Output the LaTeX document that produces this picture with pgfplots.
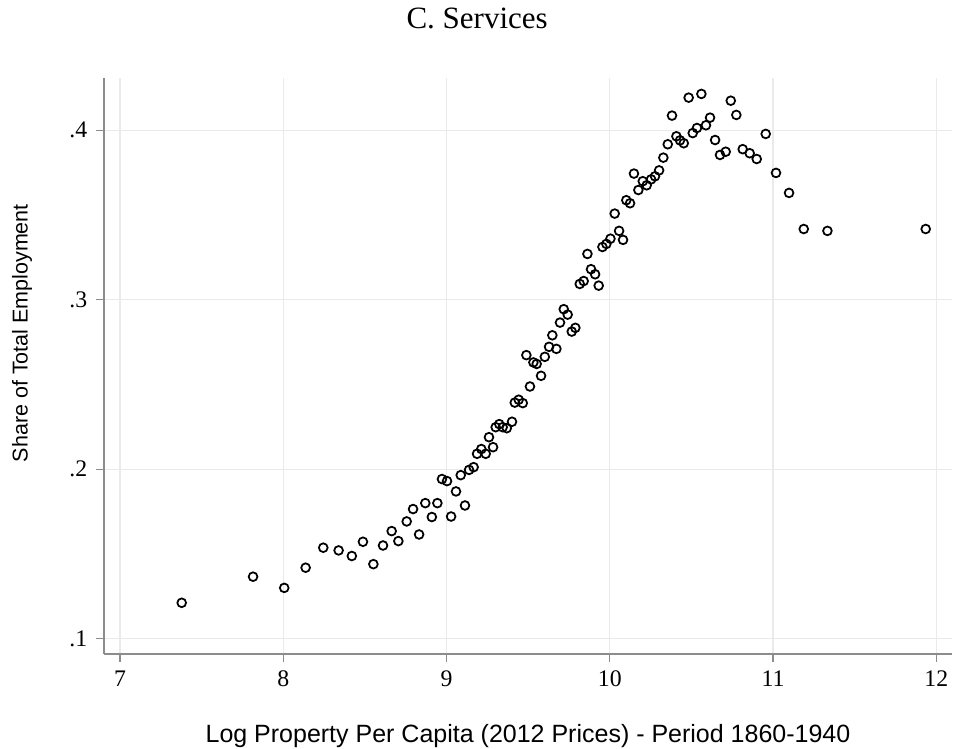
\documentclass[border=0pt]{standalone}
\usepackage{fontspec}
\setmainfont{Liberation Serif}
\newfontfamily\arialfont{Liberation Sans}
\usepackage{pgfplots}
\pgfplotsset{compat=1.18}
\definecolor{gridc}{HTML}{EAEAEA}
\definecolor{spine}{HTML}{8C8C8C}
\pgfplotstableread{
x y
7.378 0.1212
7.815 0.1366
8.006 0.1300
8.137 0.1419
8.245 0.1537
8.339 0.1521
8.420 0.1488
8.488 0.1572
8.552 0.1440
8.611 0.1550
8.664 0.1635
8.705 0.1576
8.756 0.1692
8.795 0.1765
8.832 0.1615
8.870 0.1800
8.910 0.1718
8.944 0.1800
8.972 0.1942
9.003 0.1930
9.028 0.1721
9.058 0.1869
9.087 0.1965
9.113 0.1786
9.138 0.1996
9.166 0.2012
9.187 0.2091
9.213 0.2119
9.240 0.2091
9.260 0.2189
9.285 0.2130
9.301 0.2248
9.323 0.2266
9.344 0.2248
9.369 0.2242
9.401 0.2280
9.418 0.2393
9.442 0.2410
9.467 0.2390
9.489 0.2673
9.511 0.2488
9.532 0.2630
9.552 0.2621
9.579 0.2551
9.602 0.2663
9.628 0.2722
9.648 0.2790
9.673 0.2710
9.695 0.2865
9.718 0.2944
9.742 0.2912
9.767 0.2812
9.789 0.2834
9.816 0.3093
9.840 0.3110
9.863 0.3270
9.885 0.3180
9.910 0.3150
9.932 0.3083
9.955 0.3311
9.979 0.3329
10.004 0.3360
10.030 0.3508
10.057 0.3406
10.081 0.3353
10.101 0.3587
10.124 0.3569
10.148 0.3744
10.175 0.3647
10.202 0.3699
10.226 0.3675
10.253 0.3710
10.277 0.3728
10.302 0.3763
10.328 0.3838
10.355 0.3917
10.381 0.4086
10.408 0.3964
10.430 0.3940
10.453 0.3923
10.483 0.4192
10.508 0.3983
10.534 0.4013
10.561 0.4214
10.589 0.4029
10.614 0.4074
10.645 0.3942
10.675 0.3854
10.710 0.3873
10.741 0.4174
10.775 0.4090
10.814 0.3888
10.857 0.3864
10.900 0.3830
10.955 0.3978
11.018 0.3748
11.098 0.3630
11.188 0.3417
11.333 0.3406
11.935 0.3417
}\datatable
\begin{document}
\begin{tikzpicture}[x=1pt,y=1pt]
\path[use as bounding box] (0,0) rectangle (381.2,299.6);
\begin{axis}[
  at={(41.6pt,38pt)}, anchor=south west,
  scale only axis, width=339.2pt, height=230.4pt,
  xmin=6.902, xmax=12.096, ymin=0.091, ymax=0.4308,
  axis x line*=bottom, axis y line*=left,
  axis line style={spine, line width=0.6pt},
  xtick={7,8,9,10,11,12}, xticklabels={7,8,9,10,11,12},
  ytick={0.1,0.2,0.3,0.4}, yticklabels={.1,.2,.3,.4},
  tick align=outside, major tick length=3.2pt,
  tick style={spine, line width=0.5pt},
  grid=major, grid style={gridc, line width=0.5pt},
  ticklabel style={font=\fontsize{9.5}{11}\selectfont},
  /pgf/number format/assume math mode=true,
  xlabel={Log Property Per Capita (2012 Prices) - Period 1860-1940},
  ylabel={Share of Total Employment},
  xlabel style={font=\arialfont\fontsize{10}{12}\selectfont, at={(axis description cs:0.5,-0.142)}, anchor=center},
  ylabel style={font=\arialfont\fontsize{8.6}{10}\selectfont, at={(axis description cs:-0.0967,0.557)}, anchor=center},
  title={C. Services},
  title style={font=\fontsize{12.4}{14}\selectfont, at={(axis description cs:0.44,1.060)}, anchor=base},
]
\addplot[only marks, mark=o, mark size=1.75pt, mark options={line width=0.7pt, black}] table[x=x,y=y] {\datatable};
\end{axis}
\end{tikzpicture}
\end{document}
